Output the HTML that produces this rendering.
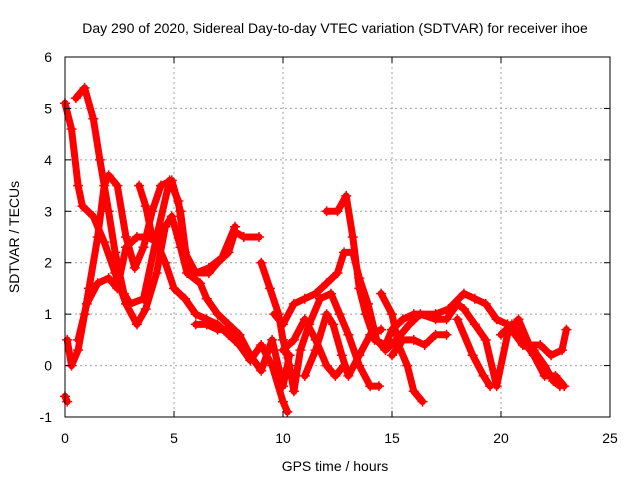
<!DOCTYPE html>
<html><head><meta charset="utf-8">
<style>
html,body{margin:0;padding:0;background:#fff;}
svg{display:block;font-family:"Liberation Sans",sans-serif;}
</style></head>
<body>
<svg id="chart" width="640" height="480" viewBox="0 0 640 480" xmlns="http://www.w3.org/2000/svg">
<rect width="640" height="480" fill="#fff"/>
<g id="grid"></g>
<g id="series"></g>
<g id="axes"></g>
<text x="335" y="33" font-size="14" text-anchor="middle" fill="#000">Day 290 of 2020, Sidereal Day-to-day VTEC variation (SDTVAR) for receiver ihoe</text>
<text x="335" y="471" font-size="14" text-anchor="middle" fill="#000">GPS time / hours</text>
<text x="0" y="0" font-size="14" text-anchor="middle" fill="#000" transform="translate(19,237) rotate(-90)">SDTVAR / TECUs</text>
</svg>
<script>
const xTicks=[0,5,10,15,20,25];
const yTicks=[-1,0,1,2,3,4,5,6];
const track1=[[0,5.1],[0.3,4.6],[0.6,3.5],[0.8,3.1],[1.3,2.9],[1.8,2.4],[2.3,1.8],[2.8,1.2],[3.3,0.8],[3.7,1.1],[4.2,1.8],[4.6,2.7],[4.9,2.9],[5.3,2.3],[5.6,1.8],[6.2,1.6],[6.5,1.3],[7,1.0],[7.5,0.8],[8,0.6],[8.5,0.2]];
const track2=[[0.5,5.2],[0.9,5.4],[1.3,4.8],[1.6,4.0],[2.0,3.0],[2.3,2.2],[2.7,1.4],[3.0,1.2],[3.6,1.3],[4.2,2.5],[4.8,3.6],[5.2,3.2],[5.5,2.2],[6.0,1.8],[6.6,1.8],[7.0,2.0],[7.5,2.2],[7.8,2.6],[8.2,2.5],[8.9,2.5]];
const track3=[[0.1,0.5],[0.3,0.0],[0.6,0.3],[0.9,1.0],[1.1,1.5],[1.5,2.5],[1.8,3.5],[2.0,3.7],[2.4,3.5],[2.8,2.5],[3.2,1.9],[3.6,2.3],[4.0,3.0],[4.4,3.5],[4.9,3.6],[5.3,3.0],[5.6,2.0],[6.0,1.8],[6.6,1.9],[7.2,2.1],[7.8,2.7]];
const track4=[[0.6,0.5],[1.0,1.2],[1.5,1.6],[2.0,1.7],[2.4,1.5],[2.8,2.3],[3.3,2.5],[3.8,2.5],[4.2,2.4],[4.6,2.0],[5.0,1.5],[5.5,1.3],[6.0,1.0],[6.5,0.9],[7.0,0.8],[7.5,0.6],[8.0,0.4],[8.5,0.2],[9.0,-0.1],[9.5,0.5],[10.0,-0.4],[10.3,0.2]];
const track5=[[3.4,3.5],[3.7,3.1],[4.0,2.5]];
const track6=[[6.0,0.8],[6.5,0.8],[7.0,0.7],[7.5,0.7],[8.0,0.4],[8.5,0.1],[9.0,0.4],[9.5,0.0],[10,-0.7],[10.2,-0.9]];
const track7=[[9,2.0],[9.4,1.5],[9.8,1.0],[10.0,0.5],[10.3,0.0],[10.5,-0.5],[10.8,0.3],[11.2,0.8],[11.7,1.3],[12.2,1.4],[12.6,1.0],[13.0,0.6],[13.5,0.0],[14.0,-0.4],[14.4,-0.4]];
const track8=[[12,3.0],[12.5,3.0],[12.9,3.3],[13.2,2.5],[13.5,1.5],[13.8,1.0],[14.2,0.5],[14.7,0.4],[15.0,0.7],[15.5,0.9],[16,1.0],[17,1.0],[17.6,1.1],[18.3,1.4],[18.8,1.3],[19.3,1.2],[19.8,0.9],[20.3,0.8],[21,0.4],[21.5,0.3],[22,0.0],[22.4,-0.3],[22.7,-0.4]];
const track9=[[9.6,1.0],[10,0.8],[10.5,1.2],[11.0,1.3],[11.5,1.4],[12.0,1.6],[12.5,1.8],[12.8,2.2],[13.2,2.2],[13.5,1.7],[13.9,1.2],[14.3,0.5],[14.7,0.3],[15.2,0.5],[15.8,0.8],[16.3,1.0],[17,0.9],[17.5,0.9],[18,1.2],[18.3,1.1],[18.8,0.8],[19.3,0.5],[19.8,-0.4],[20.3,0.6],[20.8,0.9],[21.3,0.4],[21.8,0.4],[22.3,0.2],[22.8,0.3],[23.0,0.7]];
const track10=[[10,0.3],[10.5,0.5],[11,0.9],[11.5,0.5],[12,0.0],[12.4,-0.2],[12.8,0.0]];
const track11=[[11,-0.2],[11.5,0.3],[12,1.0],[12.3,0.8],[12.7,0.2],[13,-0.2],[13.5,0.2],[14,0.6],[14.5,0.7]];
const track12=[[14.5,1.4],[15,1.0],[15.3,0.4],[15.7,0.0],[16.0,-0.5],[16.4,-0.7]];
const track13=[[15,0.2],[15.5,0.5],[16,0.5],[16.5,0.4],[17,0.6],[17.5,0.6]];
const track14=[[18,0.9],[18.7,0.2],[19.2,-0.2],[19.5,-0.4]];
const track15=[[20,0.6],[20.5,0.8],[21,0.5],[21.5,0.2],[22,-0.2],[22.5,-0.2],[22.9,-0.4]];
const track16=[[0,-0.6],[0.1,-0.7]];
const tracks=[track1,track2,track3,track4,track5,track6,track7,track8,track9,track10,track11,track12,track13,track14,track15,track16];

const L=65,R=610,T=57,B=417,xMin=0,xMax=25,yMin=-1,yMax=6;
function sx(v){return L+(v-xMin)/(xMax-xMin)*(R-L);}
function sy(v){return B-(v-yMin)/(yMax-yMin)*(B-T);}
const NS="http://www.w3.org/2000/svg";
function mk(tag,attrs,parent){const e=document.createElementNS(NS,tag);for(const k in attrs)e.setAttribute(k,attrs[k]);parent.appendChild(e);return e;}
const grid=document.getElementById('grid'),axes=document.getElementById('axes'),series=document.getElementById('series');

xTicks.forEach(t=>{
  const x=sx(t);
  if(t>xMin&&t<xMax){
    const g=mk('line',{x1:x,y1:T,x2:x,y2:B,stroke:'#a0a0a0','stroke-dasharray':'2,3','stroke-width':1},grid);
    
    
  }
  const tk=mk('line',{x1:x,y1:B,x2:x,y2:B-6,stroke:'#000'},axes);
  
  
  mk('line',{x1:x,y1:T,x2:x,y2:T+6,stroke:'#000'},axes);
  const lb=mk('text',{x:x,y:B+26,'font-size':14,'text-anchor':'middle',fill:'#000'},axes);
  lb.textContent=t;
  
  
});
yTicks.forEach(t=>{
  const y=sy(t);
  if(t>yMin&&t<yMax){
    const g=mk('line',{x1:L,y1:y,x2:R,y2:y,stroke:'#a0a0a0','stroke-dasharray':'2,3','stroke-width':1},grid);
    
    
  }
  const tk=mk('line',{x1:L,y1:y,x2:L+6,y2:y,stroke:'#000'},axes);
  
  
  mk('line',{x1:R,y1:y,x2:R-6,y2:y,stroke:'#000'},axes);
  const lb=mk('text',{x:L-13,y:y+5,'font-size':14,'text-anchor':'end',fill:'#000'},axes);
  lb.textContent=t;
  
  
});
const frame=mk('rect',{x:L,y:T,width:R-L,height:B-T,fill:'none',stroke:'#000','stroke-width':1},axes);



tracks.forEach((tr,i)=>{
  const g=mk('g',{},series);
  
  
  const pts=tr.map(p=>sx(p[0]).toFixed(1)+','+sy(p[1]).toFixed(1)).join(' ');
  mk('polyline',{points:pts,fill:'none',stroke:'#ff0000','stroke-width':7,'stroke-linejoin':'round','stroke-linecap':'round'},g);
  tr.forEach(p=>{
    const x=sx(p[0]),y=sy(p[1]);
    const m=mk('path',{d:`M${x-5},${y}H${x+5}M${x},${y-5}V${y+5}`,stroke:'#ff0000','stroke-width':1.5},g);
    
    
  });
});
</script>
</body></html>
